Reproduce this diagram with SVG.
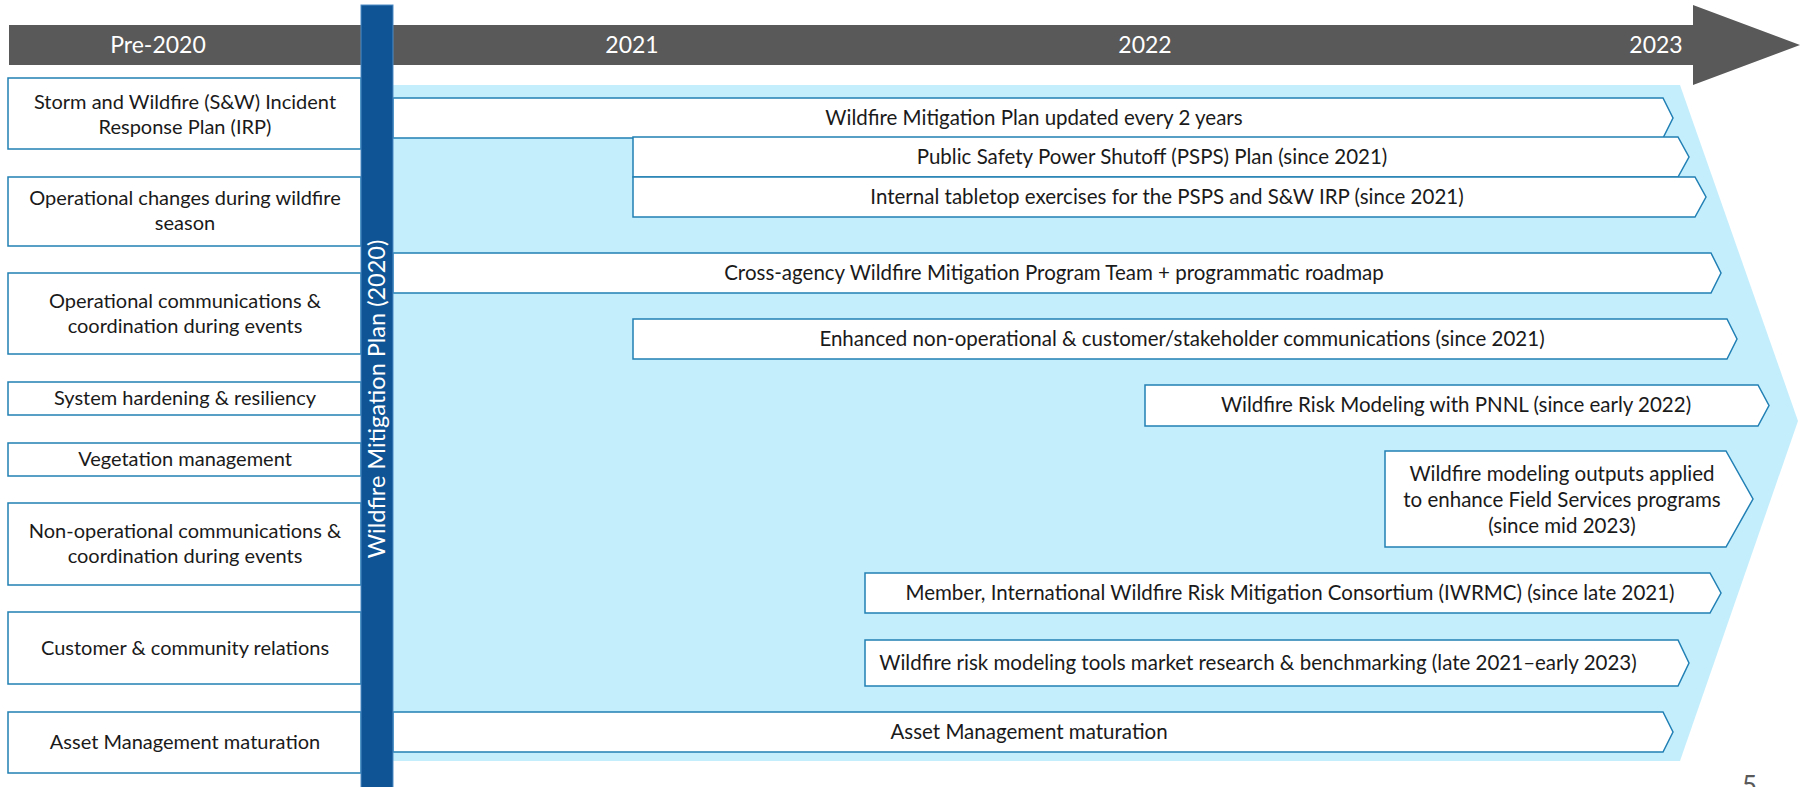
<svg xmlns="http://www.w3.org/2000/svg" width="1808" height="787" viewBox="0 0 1808 787">
<style>
.t{font-family:Lato,"Liberation Sans",sans-serif;fill:#1a1a1a;text-anchor:middle}
.l{font-size:20px}
.r{font-size:20.5px}
.yr{font-family:Lato,"Liberation Sans",sans-serif;font-size:23px;fill:#ffffff;text-anchor:middle}
.box{fill:#ffffff;stroke:#2280b4;stroke-width:1.5}
</style>
<rect width="1808" height="787" fill="#ffffff"/>
<g id="timeline">
<polygon points="9,25 1693,25 1693,5 1800,45 1693,85 1693,65 9,65" fill="#595959"/>
<text class="yr" x="158" y="53">Pre-2020</text>
<text class="yr" x="632" y="53">2021</text>
<text class="yr" x="1145" y="53">2022</text>
<text class="yr" x="1656" y="53">2023</text>
</g>
<g id="background">
<polygon points="393,85 1680,85 1798,421 1680,761 393,761" fill="#c5eefc"/>
</g>
<g id="left-1"><rect class="box" x="8" y="78" width="353" height="71"/>
<text class="t l" x="185" y="109">Storm and Wildfire (S&amp;W) Incident</text>
<text class="t l" x="185" y="134">Response Plan (IRP)</text></g>
<g id="left-2"><rect class="box" x="8" y="177" width="353" height="69"/>
<text class="t l" x="185" y="205">Operational changes during wildfire</text>
<text class="t l" x="185" y="230">season</text></g>
<g id="left-3"><rect class="box" x="8" y="273" width="353" height="81"/>
<text class="t l" x="185" y="308">Operational communications &amp;</text>
<text class="t l" x="185" y="333">coordination during events</text></g>
<g id="left-4"><rect class="box" x="8" y="382" width="353" height="33"/>
<text class="t l" x="185" y="405">System hardening &amp; resiliency</text></g>
<g id="left-5"><rect class="box" x="8" y="443" width="353" height="33"/>
<text class="t l" x="185" y="466">Vegetation management</text></g>
<g id="left-6"><rect class="box" x="8" y="503" width="353" height="82"/>
<text class="t l" x="185" y="538">Non-operational communications &amp;</text>
<text class="t l" x="185" y="563">coordination during events</text></g>
<g id="left-7"><rect class="box" x="8" y="612" width="353" height="72"/>
<text class="t l" x="185" y="655">Customer &amp; community relations</text></g>
<g id="left-8"><rect class="box" x="8" y="712" width="353" height="61"/>
<text class="t l" x="185" y="749">Asset Management maturation</text></g>
<g id="bar-1"><polygon class="box" points="393,98 1663,98 1673,118 1663,138 393,138"/>
<text class="t r" x="1034" y="125">Wildfire Mitigation Plan updated every 2 years</text></g>
<g id="bar-2"><polygon class="box" points="633,137 1678,137 1689,157 1678,177 633,177"/>
<text class="t r" x="1152" y="164">Public Safety Power Shutoff (PSPS) Plan (since 2021)</text></g>
<g id="bar-3"><polygon class="box" points="633,177 1695,177 1706,197 1695,217 633,217"/>
<text class="t r" x="1167" y="204">Internal tabletop exercises for the PSPS and S&amp;W IRP (since 2021)</text></g>
<g id="bar-4"><polygon class="box" points="393,253 1711,253 1721,273 1711,293 393,293"/>
<text class="t r" x="1054" y="280">Cross-agency Wildfire Mitigation Program Team + programmatic roadmap</text></g>
<g id="bar-5"><polygon class="box" points="633,319 1727,319 1737,339 1727,359 633,359"/>
<text class="t r" x="1182" y="346">Enhanced non-operational &amp; customer/stakeholder communications (since 2021)</text></g>
<g id="bar-6"><polygon class="box" points="1145,385 1758,385 1769,405.5 1758,426 1145,426"/>
<text class="t r" x="1456" y="412">Wildfire Risk Modeling with PNNL (since early 2022)</text></g>
<g id="bar-7"><polygon class="box" points="1385,451 1726,451 1753,499 1726,547 1385,547"/>
<text class="t r" x="1562" y="481">Wildfire modeling outputs applied</text>
<text class="t r" x="1562" y="507">to enhance Field Services programs</text>
<text class="t r" x="1562" y="533">(since mid 2023)</text></g>
<g id="bar-8"><polygon class="box" points="865,573 1710,573 1721,593 1710,613 865,613"/>
<text class="t r" x="1290" y="600">Member, International Wildfire Risk Mitigation Consortium (IWRMC) (since late 2021)</text></g>
<g id="bar-9"><polygon class="box" points="865,640 1678,640 1689,663 1678,686 865,686"/>
<text class="t r" x="1258" y="670">Wildfire risk modeling tools market research &amp; benchmarking (late 2021–early 2023)</text></g>
<g id="bar-10"><polygon class="box" points="393,712 1663,712 1673,732 1663,752 393,752"/>
<text class="t r" x="1029" y="739">Asset Management maturation</text></g>
<g id="wmp-2020">
<rect x="361" y="5" width="32" height="790" fill="#0f5494" stroke="#4d8cc6" stroke-width="1"/>
<text transform="translate(385,399) rotate(-90)" x="0" y="0" style="font-family:Lato,'Liberation Sans',sans-serif;font-size:23.5px;fill:#ffffff;text-anchor:middle">Wildfire Mitigation Plan (2020)</text>
</g>
<g id="connectors"/>
<text x="1742" y="795" style="font-family:Lato,'Liberation Sans',sans-serif;font-size:26px;fill:#595959">5</text>
</svg>
